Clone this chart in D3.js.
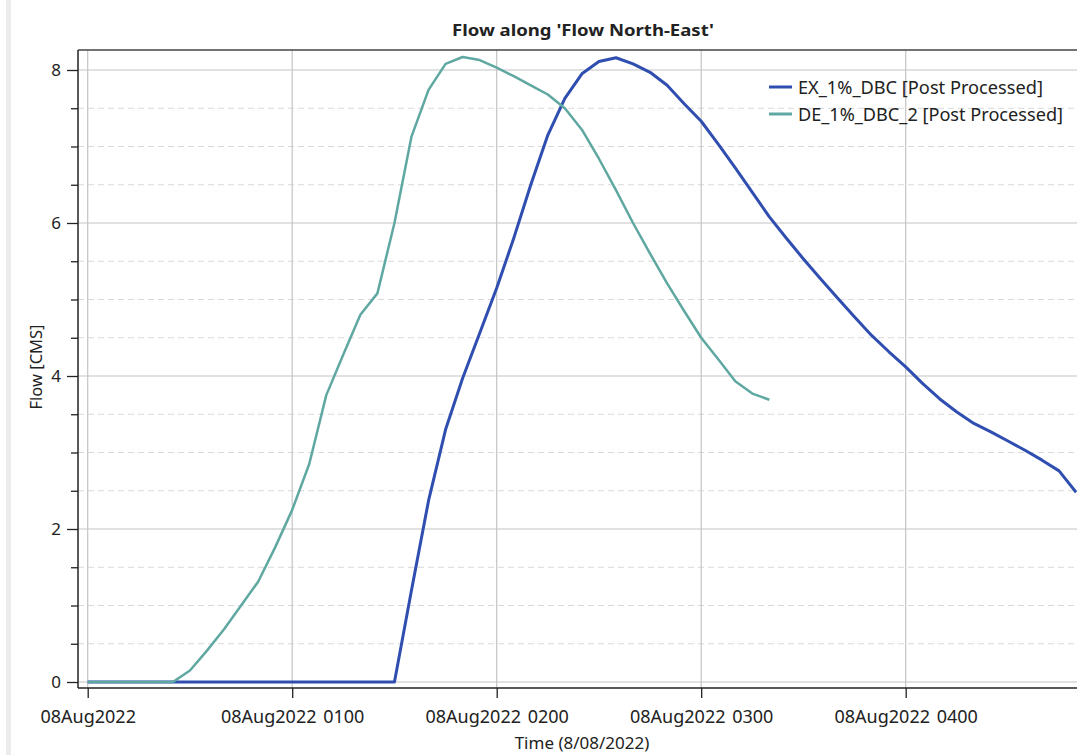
<!DOCTYPE html>
<html>
<head>
<meta charset="utf-8">
<script src="https://cdn.jsdelivr.net/npm/d3@7"></script>
<style>
  html, body { margin: 0; padding: 0; background: #ffffff; overflow: hidden; }
  svg { display: block; }
  text { font-family: "Noto Sans", "Open Sans", sans-serif; fill: #222; }
</style>
</head>
<body>
<svg id="chart" width="1077" height="755"></svg>
<script>
// ---------- data ----------
const chartTitle = "Flow along 'Flow North-East'";
const xTitle = "Time (8/08/2022)";
const yTitle = "Flow [CMS]";
const seriesNames = ["EX_1%_DBC [Post Processed]", "DE_1%_DBC_2 [Post Processed]"];
const seriesColors = ["#2f4eb0", "#5fa8a2"];

const exTimes = ["00:00","00:05","00:10","00:15","00:20","00:25","00:30","00:35","00:40","00:45",
  "00:50","00:55","01:00","01:05","01:10","01:15","01:20","01:25","01:30","01:35",
  "01:40","01:45","01:50","01:55","02:00","02:05","02:10","02:15","02:20","02:25",
  "02:30","02:35","02:40","02:45","02:50","02:55","03:00","03:05","03:10","03:15",
  "03:20","03:25","03:30","03:35","03:40","03:45","03:50","03:55","04:00","04:05",
  "04:10","04:15","04:20","04:25","04:30","04:35","04:40","04:45","04:50"];
const exFlow = [0,0,0,0,0,0,0,0,0,0,
  0,0,0,0,0,0,0,0,0,1.2,
  2.37,3.3,3.97,4.56,5.15,5.8,6.5,7.15,7.63,7.95,
  8.11,8.16,8.08,7.97,7.80,7.56,7.33,7.03,6.72,6.40,
  6.08,5.80,5.53,5.27,5.02,4.77,4.53,4.32,4.12,3.90,
  3.70,3.53,3.38,3.27,3.15,3.03,2.90,2.76,2.48];

const deTimes = ["00:00","00:05","00:10","00:15","00:20","00:25","00:30","00:35","00:40","00:45",
  "00:50","00:55","01:00","01:05","01:10","01:15","01:20","01:25","01:30","01:35",
  "01:40","01:45","01:50","01:55","02:00","02:05","02:10","02:15","02:20","02:25",
  "02:30","02:35","02:40","02:45","02:50","02:55","03:00","03:05","03:10","03:15",
  "03:20"];
const deFlow = [0,0,0,0,0,0,0.15,0.41,0.69,1.0,
  1.31,1.76,2.25,2.85,3.75,4.28,4.80,5.08,6.0,7.13,
  7.74,8.08,8.17,8.13,8.03,7.92,7.80,7.68,7.50,7.22,
  6.84,6.43,6.0,5.6,5.21,4.85,4.5,4.22,3.93,3.77,
  3.69];

const xTickTimes = ["00:00","01:00","02:00","03:00","04:00"];
const xTickLabels = ["08Aug2022","08Aug2022 0100","08Aug2022 0200","08Aug2022 0300","08Aug2022 0400"];
const yMajorTicks = [0, 2, 4, 6, 8];
const yMinorTicks = [0.5, 1, 1.5, 2.5, 3, 3.5, 4.5, 5, 5.5, 6.5, 7, 7.5];

// ---------- helpers ----------
const parseT = s => {
  const [h, m] = s.split(":").map(Number);
  return new Date(Date.UTC(2022, 7, 8, h, m));
};

// ---------- layout ----------
const W = 1077, H = 755;
const frameLeft = 78, frameTop = 50, frameBottom = 688, frameRight = 1110;

const svg = d3.select("#chart");

// left gray strip
svg.append("rect").attr("x", 6).attr("y", 0).attr("width", 5).attr("height", H).attr("fill", "#ececec");

const x = d3.scaleUtc()
  .domain([parseT("00:00"), parseT("05:00")])
  .range([87.7, 87.7 + 5 * 204.5]);
const y = d3.scaleLinear().domain([0, 8]).range([682, 70]);

// clip
svg.append("clipPath").attr("id", "plotclip")
  .append("rect").attr("x", frameLeft).attr("y", frameTop)
  .attr("width", frameRight - frameLeft).attr("height", frameBottom - frameTop);

const grid = svg.append("g");
grid.selectAll(".ymin").data(yMinorTicks).enter().append("line")
  .attr("x1", frameLeft).attr("x2", W)
  .attr("y1", d => y(d)).attr("y2", d => y(d))
  .attr("stroke", "#d9d9d9").attr("stroke-width", 1).attr("stroke-dasharray", "6,4");
grid.selectAll(".ymaj").data(yMajorTicks).enter().append("line")
  .attr("x1", frameLeft).attr("x2", W)
  .attr("y1", d => y(d)).attr("y2", d => y(d))
  .attr("stroke", "#c4c4c4").attr("stroke-width", 1.2);
grid.selectAll(".xg").data(xTickTimes).enter().append("line")
  .attr("x1", d => x(parseT(d))).attr("x2", d => x(parseT(d)))
  .attr("y1", frameTop).attr("y2", frameBottom)
  .attr("stroke", "#c4c4c4").attr("stroke-width", 1.2);

// frame
svg.append("line").attr("x1", frameLeft).attr("x2", W).attr("y1", frameTop).attr("y2", frameTop)
  .attr("stroke", "#444").attr("stroke-width", 1.5);
svg.append("line").attr("x1", frameLeft).attr("x2", frameLeft).attr("y1", frameTop).attr("y2", frameBottom)
  .attr("stroke", "#222").attr("stroke-width", 1.5);
svg.append("line").attr("x1", frameLeft).attr("x2", W).attr("y1", frameBottom).attr("y2", frameBottom)
  .attr("stroke", "#222").attr("stroke-width", 1.5);

// y axis ticks
const yAxisMajor = d3.axisLeft(y).tickValues(yMajorTicks).tickSize(11).tickPadding(6).tickFormat(d3.format("d"));
const gy = svg.append("g").attr("transform", `translate(${frameLeft},0)`).call(yAxisMajor);
gy.select(".domain").remove();
gy.selectAll(".tick line").attr("stroke", "#222").attr("stroke-width", 1.3);
gy.selectAll(".tick text").attr("font-size", 17).attr("font-family", "Noto Sans").attr("fill", "#222");
const yAxisMinor = d3.axisLeft(y).tickValues(yMinorTicks).tickSize(7).tickFormat("");
const gym = svg.append("g").attr("transform", `translate(${frameLeft},0)`).call(yAxisMinor);
gym.select(".domain").remove();
gym.selectAll(".tick line").attr("stroke", "#222").attr("stroke-width", 1.3);

// x axis
const xAxis = d3.axisBottom(x).tickValues(xTickTimes.map(parseT)).tickSize(10).tickPadding(12)
  .tickFormat((d, i) => xTickLabels[i]);
const gx = svg.append("g").attr("transform", `translate(0,${frameBottom})`).call(xAxis);
gx.select(".domain").remove();
gx.selectAll(".tick line").attr("stroke", "#222").attr("stroke-width", 1.3);
gx.selectAll(".tick text").attr("font-size", 18).attr("font-family", "Noto Sans")
  .attr("fill", "#222").attr("word-spacing", 2);

// lines
const line = d3.line().x(d => x(d.t)).y(d => y(d.v));
const exData = exTimes.map((t, i) => ({ t: parseT(t), v: exFlow[i] }));
const deData = deTimes.map((t, i) => ({ t: parseT(t), v: deFlow[i] }));
const plot = svg.append("g").attr("clip-path", "url(#plotclip)");
plot.append("path").datum(exData).attr("d", line).attr("fill", "none")
  .attr("stroke", seriesColors[0]).attr("stroke-width", 3).attr("stroke-linejoin", "round");
plot.append("path").datum(deData).attr("d", line).attr("fill", "none")
  .attr("stroke", seriesColors[1]).attr("stroke-width", 2.5).attr("stroke-linejoin", "round");

// title
svg.append("text").attr("x", 583).attr("y", 36).attr("text-anchor", "middle")
  .attr("font-size", 16.5).attr("font-weight", "bold")
  .attr("textLength", 262).attr("lengthAdjust", "spacingAndGlyphs").text(chartTitle);

// axis titles
svg.append("text").attr("x", 582).attr("y", 749).attr("text-anchor", "middle")
  .attr("font-size", 17).text(xTitle);
svg.append("text").attr("transform", "translate(42,367) rotate(-90)").attr("text-anchor", "middle")
  .attr("font-size", 16.5).text(yTitle);

// legend
const legendWidths = [245, 265];
const legend = svg.append("g");
seriesNames.forEach((name, i) => {
  const ly = 87 + i * 27;
  legend.append("line").attr("x1", 769).attr("x2", 792).attr("y1", ly).attr("y2", ly)
    .attr("stroke", seriesColors[i]).attr("stroke-width", 3);
  legend.append("text").attr("x", 798).attr("y", ly).attr("dominant-baseline", "central")
    .attr("font-size", 17.5)
    .attr("textLength", legendWidths[i]).attr("lengthAdjust", "spacingAndGlyphs")
    .text(name);
});
</script>
</body>
</html>
